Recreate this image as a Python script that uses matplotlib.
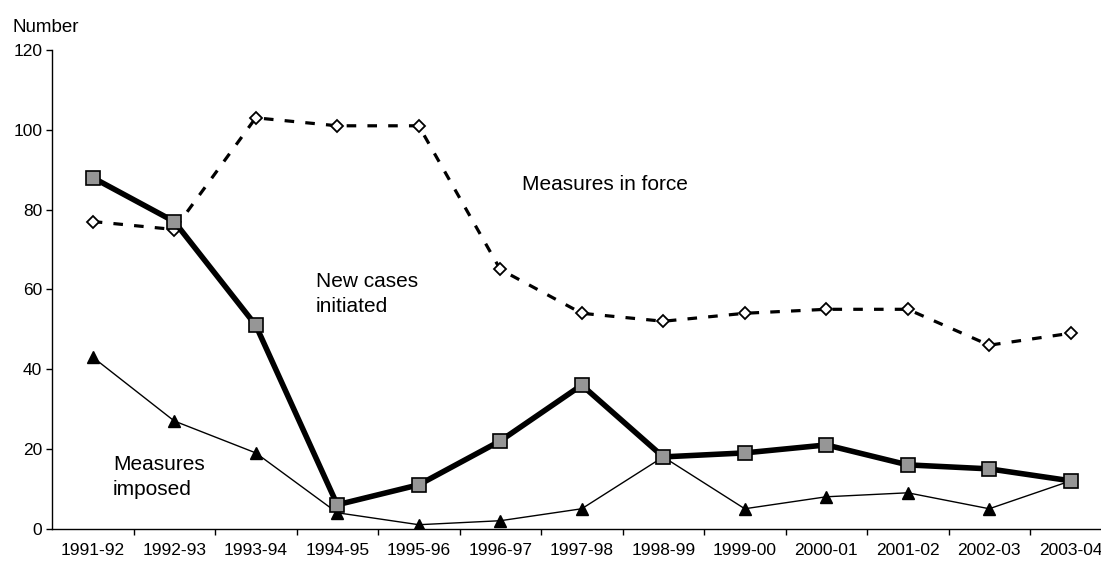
import matplotlib
matplotlib.use("Agg")
import matplotlib.pyplot as plt
import numpy as np

plt.rcParams["font.family"] = ["Liberation Sans", "DejaVu Sans"]

years = ["1991-92", "1992-93", "1993-94", "1994-95", "1995-96", "1996-97", "1997-98",
         "1998-99", "1999-00", "2000-01", "2001-02", "2002-03", "2003-04"]
measures_in_force = [77, 75, 103, 101, 101, 65, 54, 52, 54, 55, 55, 46, 49]
new_cases = [88, 77, 51, 6, 11, 22, 36, 18, 19, 21, 16, 15, 12]
measures_imposed = [43, 27, 19, 4, 1, 2, 5, 18, 5, 8, 9, 5, 12]

W, H = 1101, 563
fig = plt.figure(figsize=(W / 100, H / 100), dpi=100)
# axis runs off the right edge like the original
ax = fig.add_axes([52 / W, (H - 528.7) / H, 1059.5 / W, (528.7 - 50) / H])

x = np.arange(len(years))

ax.plot(x, measures_in_force, color="black", lw=2.3, linestyle=(0, (3, 3.5)),
        marker="D", markersize=6, markerfacecolor="white", markeredgecolor="black",
        markeredgewidth=1.3, zorder=2)
ax.plot(x, measures_imposed, color="black", lw=1.0, marker="^", markersize=9,
        markerfacecolor="black", markeredgecolor="black", zorder=3)
ax.plot(x, new_cases, color="black", lw=4.0, marker="s", markersize=10,
        markerfacecolor="#969696", markeredgecolor="black", markeredgewidth=1.2, zorder=4)

ax.set_xlim(-0.5, len(years) - 0.5)
ax.set_ylim(0, 120)
ax.set_yticks(np.arange(0, 121, 20))
ax.set_xticks(x)
ax.set_xticklabels(years)
ax.set_xticks(np.arange(0.5, len(years), 1), minor=True)
ax.tick_params(axis="x", which="major", length=0, pad=10, labelsize=12.5)
ax.tick_params(axis="x", which="minor", length=4, width=1, direction="out")
ax.tick_params(axis="y", length=4, width=1, direction="out", pad=3, labelsize=12.5)

for s in ["top", "right"]:
    ax.spines[s].set_visible(False)
for s in ["left", "bottom"]:
    ax.spines[s].set_linewidth(1.0)

ax.text(5.27, 86.2, "Measures in force", fontsize=15, va="center", ha="left")
ax.text(2.74, 58.8, "New cases\ninitiated", fontsize=15, va="center", ha="left",
        linespacing=1.4)
ax.text(0.25, 13.0, "Measures\nimposed", fontsize=15, va="center", ha="left",
        linespacing=1.4)

fig.text(13 / W, 1 - 27 / H, "Number", fontsize=13.5, va="center", ha="left")

fig.savefig("out.png", dpi=100)
